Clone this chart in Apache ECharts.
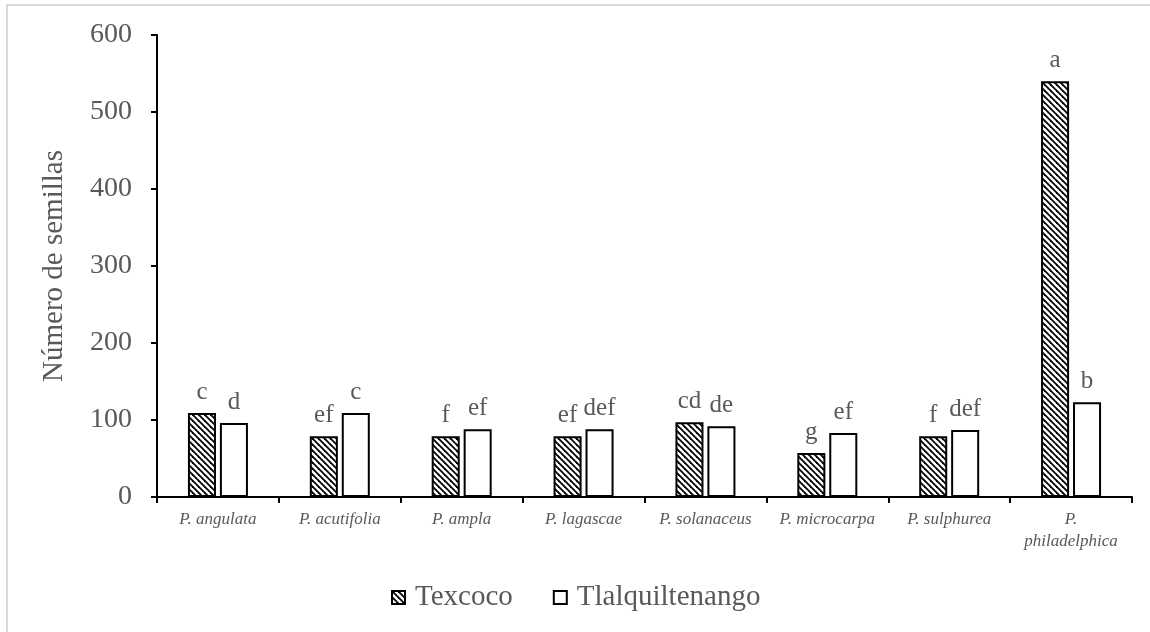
<!DOCTYPE html>
<html>
<head>
<meta charset="utf-8">
<script src="https://cdn.jsdelivr.net/npm/echarts@6/dist/echarts.min.js"></script>
<style>
  html, body { margin: 0; padding: 0; background: #fff; }
  #frame { position: absolute; left: 6px; top: 4px; width: 1160px; height: 640px; border: 2px solid #d9d9d9; box-sizing: border-box; }
  #chart { position: absolute; left: 0; top: 0; width: 1150px; height: 632px; }
</style>
</head>
<body>
<div id="frame"></div>
<div id="chart"></div>
<script>
// Species (category axis)
const species = ['P. angulata', 'P. acutifolia', 'P. ampla', 'P. lagascae', 'P. solanaceus', 'P. microcarpa', 'P. sulphurea', 'P.\nphiladelphica'];
// Seeds per fruit by locality
const texcoco = [109, 79, 79, 79, 97, 57, 79, 540];
const tlalquiltenango = [96, 109, 88, 88, 92, 83, 87, 123];
// Mean-separation letters
const texcocoLetters = ['c', 'ef', 'f', 'ef', 'cd', 'g', 'f', 'a'];
const tlalquiltenangoLetters = ['d', 'c', 'ef', 'def', 'de', 'ef', 'def', 'b'];
// Value axis ticks
const yMin = 0, yMax = 600, yStep = 100;

const serif = '"Liberation Serif", "Times New Roman", serif';
const grey = '#595959';

// Diagonal hatch fill
function hatch() {
  const c = document.createElement('canvas');
  c.width = 6; c.height = 6;
  const g = c.getContext('2d');
  g.fillStyle = '#fff';
  g.fillRect(0, 0, 6, 6);
  g.strokeStyle = '#000';
  g.lineWidth = 1.8;
  for (const k of [-6, 0, 6]) {
    g.beginPath();
    g.moveTo(k - 1, -1);
    g.lineTo(k + 7, 7);
    g.stroke();
  }
  return c;
}

const chart = echarts.init(document.getElementById('chart'), null, { renderer: 'canvas' });

const letterLabel = (letters) => ({
  show: true,
  position: 'top',
  distance: 8,
  color: grey,
  fontFamily: serif,
  fontSize: 25,
  formatter: (p) => letters[p.dataIndex]
});

chart.setOption({
  backgroundColor: 'transparent',
  animation: false,
  grid: { left: 157, right: 18, top: 35, bottom: 135 },
  legend: {
    left: 386,
    top: 578,
    icon: 'rect',
    itemWidth: 13,
    itemHeight: 13,
    itemGap: 40,
    textStyle: { color: grey, fontFamily: serif, fontSize: 29, padding: [0, 0, 0, 5] },
    data: ['Texcoco', 'Tlalquiltenango']
  },
  xAxis: {
    type: 'category',
    data: species,
    axisLine: { lineStyle: { color: '#000', width: 2 } },
    axisTick: { show: true, length: 6, lineStyle: { color: '#000', width: 2 } },
    axisLabel: {
      color: grey,
      fontFamily: serif,
      fontStyle: 'italic',
      fontSize: 17,
      lineHeight: 22,
      margin: 12,
      interval: 0
    }
  },
  yAxis: {
    type: 'value',
    min: yMin,
    max: yMax,
    interval: yStep,
    name: 'Número de semillas',
    nameLocation: 'middle',
    nameGap: 88,
    nameTextStyle: { color: grey, fontFamily: serif, fontSize: 29 },
    axisLine: { show: true, lineStyle: { color: '#000', width: 2 } },
    axisTick: { show: true, length: 6, lineStyle: { color: '#000', width: 2 } },
    axisLabel: { color: grey, fontFamily: serif, fontSize: 28, margin: 25 },
    splitLine: { show: false }
  },
  series: [
    {
      name: 'Texcoco',
      type: 'bar',
      data: texcoco,
      barWidth: '23%',
      barGap: '14%',
      itemStyle: { color: { image: hatch(), repeat: 'repeat' }, borderColor: '#000', borderWidth: 2 },
      label: letterLabel(texcocoLetters)
    },
    {
      name: 'Tlalquiltenango',
      type: 'bar',
      data: tlalquiltenango,
      barWidth: '23%',
      itemStyle: { color: '#fff', borderColor: '#000', borderWidth: 2 },
      label: letterLabel(tlalquiltenangoLetters)
    }
  ]
});
</script>
</body>
</html>
